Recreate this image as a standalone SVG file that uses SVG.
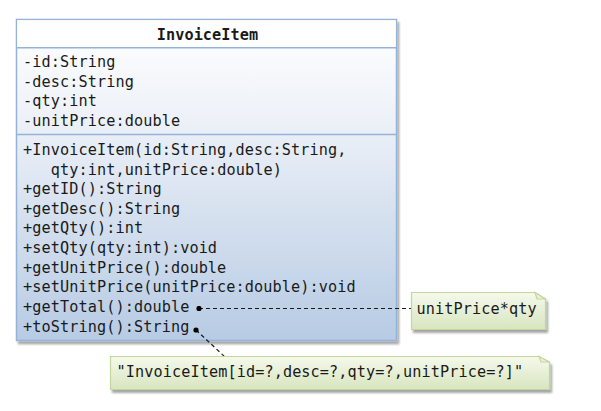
<svg xmlns="http://www.w3.org/2000/svg" width="601" height="411" viewBox="0 0 601 411">
<defs>
<linearGradient id="clsGrad" x1="0" y1="0" x2="0" y2="1">
<stop offset="0" stop-color="#ffffff"/>
<stop offset="0.3" stop-color="#eef2f8"/>
<stop offset="1" stop-color="#b7cbe4"/>
</linearGradient>
<linearGradient id="noteGrad" x1="0" y1="0" x2="0" y2="1">
<stop offset="0" stop-color="#f5f9ec"/>
<stop offset="1" stop-color="#d8e5bf"/>
</linearGradient>
<filter id="shadow" x="-5%" y="-5%" width="115%" height="120%">
<feGaussianBlur in="SourceAlpha" stdDeviation="1"/>
<feOffset dx="2" dy="3" result="b"/>
<feComponentTransfer><feFuncA type="linear" slope="0.35"/></feComponentTransfer>
<feMerge><feMergeNode/><feMergeNode in="SourceGraphic"/></feMerge>
</filter>
<marker id="dot" markerWidth="6" markerHeight="6" refX="3" refY="3" markerUnits="userSpaceOnUse">
<circle cx="3" cy="3" r="2.6" fill="#000"/>
</marker>
</defs>
<style>
.t{font-family:"DejaVu Sans Mono","Liberation Mono",monospace;font-size:15.2px;letter-spacing:0.1px;fill:#1a1a1a}
.b{font-weight:bold;text-anchor:middle}
.cls{fill:url(#clsGrad);stroke:#95b3d7;stroke-width:1.5}
.div{stroke:#95b3d7;stroke-width:1.5}
.note{fill:url(#noteGrad);stroke:#c3d69b;stroke-width:1.2}
.fold{fill:#e9f0da;stroke:#c3d69b;stroke-width:1.2}
.conn{stroke:#1a1a1a;stroke-width:1.2;stroke-dasharray:4 3;fill:none}
</style>
<g id="InvoiceItem">
<rect class="cls" x="16.5" y="19.5" width="380" height="321" filter="url(#shadow)"/>
<rect x="17.3" y="20.3" width="378.4" height="27.2" fill="#ffffff"/>
<line class="div" x1="16.5" y1="47.8" x2="396.5" y2="47.8"/>
<line class="div" x1="16.5" y1="134.5" x2="396.5" y2="134.5"/>
<text class="t b" x="207.5" y="40">InvoiceItem</text>
<text class="t" x="23" y="67">-id:String</text>
<text class="t" x="23" y="86.5">-desc:String</text>
<text class="t" x="23" y="106">-qty:int</text>
<text class="t" x="23" y="125.5">-unitPrice:double</text>
<text class="t" x="23" y="155">+InvoiceItem(id:String,desc:String,</text>
<text class="t" x="50.8" y="174.5">qty:int,unitPrice:double)</text>
<text class="t" x="23" y="194">+getID():String</text>
<text class="t" x="23" y="213.7">+getDesc():String</text>
<text class="t" x="23" y="233.4">+getQty():int</text>
<text class="t" x="23" y="253">+setQty(qty:int):void</text>
<text class="t" x="23" y="272.7">+getUnitPrice():double</text>
<text class="t" x="23" y="292.3">+setUnitPrice(unitPrice:double):void</text>
<text class="t" x="23" y="312">+getTotal():double</text>
<text class="t" x="23" y="331.6">+toString():String</text>
</g>
<g id="connectors">
<line class="conn" x1="199" y1="308.5" x2="411" y2="308.5" marker-start="url(#dot)"/>
<line class="conn" x1="196" y1="330" x2="225" y2="357" marker-start="url(#dot)"/>
</g>
<g id="note-total">
<path class="note" d="M411.5,292.5 H535 L545.5,299 V329.5 H411.5 Z" filter="url(#shadow)"/>
<path class="fold" d="M535,292.5 L545.5,299 L537,299 Z"/>
<text class="t" x="416.5" y="313.5">unitPrice*qty</text>
</g>
<g id="note-tostring">
<path class="note" d="M110.5,356.5 H539 L549.5,362 V389.5 H110.5 Z" filter="url(#shadow)"/>
<path class="fold" d="M539,356.5 L549.5,362 L541,362 Z"/>
<text class="t" x="116.5" y="377">"InvoiceItem[id=?,desc=?,qty=?,unitPrice=?]"</text>
</g>
</svg>
